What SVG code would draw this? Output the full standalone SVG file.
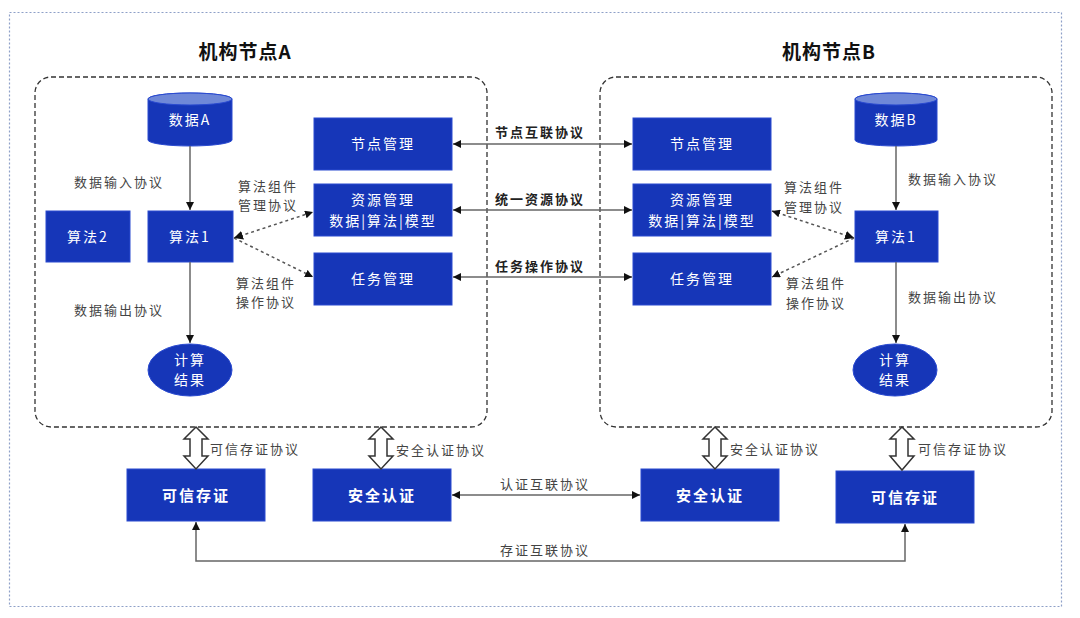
<svg xmlns="http://www.w3.org/2000/svg" width="1080" height="618" viewBox="0 0 1080 618">
<defs>
<marker id="ah" viewBox="0 0 10 10" refX="10" refY="5" markerWidth="8" markerHeight="8" markerUnits="userSpaceOnUse" orient="auto-start-reverse">
<path d="M0,0 L10,5 L0,10 z" fill="#111"/>
</marker>
<marker id="ahs" viewBox="0 0 10 10" refX="10" refY="5" markerWidth="9" markerHeight="9" markerUnits="userSpaceOnUse" orient="auto-start-reverse">
<path d="M0,0 L10,5 L0,10 z" fill="#111"/>
</marker>
</defs>
<style>
.box{fill:#1636b8;stroke:#2a4ad0;stroke-width:1}
.bt{font-family:"Noto Sans CJK SC","Noto Sans",sans-serif;font-size:14px;fill:#fff;text-anchor:middle;letter-spacing:2px}
.bb{font-weight:bold;font-size:15px}
.lb{font-family:"Noto Sans CJK SC","Noto Sans",sans-serif;font-size:13px;fill:#444;letter-spacing:2px}
.lbb{font-weight:bold;fill:#222}
.title{font-family:"Noto Sans CJK SC","Noto Sans",sans-serif;font-size:19px;font-weight:bold;fill:#111;text-anchor:middle;letter-spacing:1px}
.area{fill:none;stroke:#333;stroke-width:1.3;stroke-dasharray:5,3}
.ln{fill:none;stroke:#666;stroke-width:1.5}
.dot{fill:none;stroke:#555;stroke-width:1.5;stroke-dasharray:3,3}
.dbl{fill:#fff;stroke:#333;stroke-width:1.5;stroke-linejoin:miter}
</style>
<rect width="1080" height="618" fill="#fff"/>
<rect x="9.5" y="12.5" width="1052" height="594" fill="none" stroke="#8ea0c8" stroke-width="1.2" stroke-dasharray="2,2"/>

<g id="orgA">
<text class="title" x="245" y="59">机构节点A</text>
<rect class="area" x="35" y="77" width="452" height="350" rx="16"/>
</g>
<g id="orgB">
<text class="title" x="829" y="59">机构节点B</text>
<rect class="area" x="600" y="77" width="452" height="350" rx="16"/>
</g>

<g id="dataA">
<path d="M148,99 V140 A42,6 0 0 0 232,140 V99 A42,6 0 0 0 148,99 z" class="box"/>
<ellipse cx="190" cy="99" rx="42" ry="6" fill="#6f88d8" stroke="#2a4ad0"/>
<text class="bt" x="190" y="125">数据A</text>
</g>
<g id="algo2A"><rect class="box" x="46" y="211" width="84" height="51"/><text class="bt" x="88" y="242">算法2</text></g>
<g id="algo1A"><rect class="box" x="148" y="211" width="85" height="51"/><text class="bt" x="190" y="242">算法1</text></g>
<g id="resultA"><ellipse class="box" cx="190" cy="370" rx="42" ry="26"/><text class="bt" x="190" y="365">计算</text><text class="bt" x="190" y="385">结果</text></g>
<g id="nodeMgrA"><rect class="box" x="314" y="118" width="138" height="52"/><text class="bt" x="383" y="149">节点管理</text></g>
<g id="resMgrA"><rect class="box" x="314" y="184" width="138" height="52"/><text class="bt" x="383" y="205">资源管理</text><text class="bt" x="383" y="226">数据|算法|模型</text></g>
<g id="taskMgrA"><rect class="box" x="314" y="253" width="138" height="52"/><text class="bt" x="383" y="284">任务管理</text></g>

<g id="dataB">
<path d="M855,99 V140 A41,6 0 0 0 937,140 V99 A41,6 0 0 0 855,99 z" class="box"/>
<ellipse cx="896" cy="99" rx="41" ry="6" fill="#6f88d8" stroke="#2a4ad0"/>
<text class="bt" x="896" y="125">数据B</text>
</g>
<g id="algo1B"><rect class="box" x="855" y="211" width="83" height="51"/><text class="bt" x="896" y="242">算法1</text></g>
<g id="resultB"><ellipse class="box" cx="895" cy="370" rx="42" ry="26"/><text class="bt" x="895" y="365">计算</text><text class="bt" x="895" y="385">结果</text></g>
<g id="nodeMgrB"><rect class="box" x="633" y="118" width="138" height="52"/><text class="bt" x="702" y="149">节点管理</text></g>
<g id="resMgrB"><rect class="box" x="633" y="184" width="138" height="52"/><text class="bt" x="702" y="205">资源管理</text><text class="bt" x="702" y="226">数据|算法|模型</text></g>
<g id="taskMgrB"><rect class="box" x="633" y="253" width="138" height="52"/><text class="bt" x="702" y="284">任务管理</text></g>

<g id="trustA"><rect class="box" x="127" y="469" width="138" height="52"/><text class="bt bb" x="196" y="501">可信存证</text></g>
<g id="authA"><rect class="box" x="313" y="469" width="138" height="52"/><text class="bt bb" x="382" y="501">安全认证</text></g>
<g id="authB"><rect class="box" x="641" y="469" width="138" height="52"/><text class="bt bb" x="710" y="501">安全认证</text></g>
<g id="trustB"><rect class="box" x="836" y="471" width="138" height="52"/><text class="bt bb" x="905" y="503">可信存证</text></g>

<g id="connectors">
<line class="ln" x1="190" y1="146" x2="190" y2="210" marker-end="url(#ah)"/>
<line class="ln" x1="190" y1="262" x2="190" y2="343" marker-end="url(#ah)"/>
<line class="ln" x1="896" y1="146" x2="896" y2="210" marker-end="url(#ah)"/>
<line class="ln" x1="896" y1="262" x2="896" y2="343" marker-end="url(#ah)"/>

<line class="dot" x1="234" y1="238" x2="313" y2="212" marker-start="url(#ahs)" marker-end="url(#ah)"/>
<line class="dot" x1="234" y1="238" x2="313" y2="277" marker-end="url(#ah)"/>
<line class="dot" x1="854" y1="238" x2="772" y2="211" marker-start="url(#ahs)" marker-end="url(#ah)"/>
<line class="dot" x1="854" y1="238" x2="772" y2="277" marker-end="url(#ah)"/>

<line class="ln" x1="453" y1="144" x2="632" y2="144" marker-start="url(#ah)" marker-end="url(#ah)"/>
<line class="ln" x1="453" y1="210" x2="632" y2="210" marker-start="url(#ah)" marker-end="url(#ah)"/>
<line class="ln" x1="453" y1="277" x2="632" y2="277" marker-start="url(#ah)" marker-end="url(#ah)"/>
<line class="ln" x1="452" y1="495" x2="640" y2="495" marker-start="url(#ah)" marker-end="url(#ah)"/>
<path class="ln" d="M196,522 V561 H905 V524" marker-start="url(#ah)" marker-end="url(#ah)"/>

<path class="dbl" d="M196,427 L208,439 L202,439 L202,456 L208,456 L196,469 L184,456 L190,456 L190,439 L184,439 Z"/>
<path class="dbl" d="M381,427 L393,439 L387,439 L387,456 L393,456 L381,469 L369,456 L375,456 L375,439 L369,439 Z"/>
<path class="dbl" d="M715,427 L727,439 L721,439 L721,456 L727,456 L715,469 L703,456 L709,456 L709,439 L703,439 Z"/>
<path class="dbl" d="M902,427 L914,439 L908,439 L908,456 L914,456 L902,470 L890,456 L896,456 L896,439 L890,439 Z"/>
</g>

<g id="labels">
<text class="lb" x="74" y="187">数据输入协议</text>
<text class="lb" x="74" y="315">数据输出协议</text>
<text class="lb" x="238" y="191">算法组件</text>
<text class="lb" x="238" y="210">管理协议</text>
<text class="lb" x="236" y="288">算法组件</text>
<text class="lb" x="236" y="307">操作协议</text>
<text class="lb" x="908" y="184">数据输入协议</text>
<text class="lb" x="908" y="302">数据输出协议</text>
<text class="lb" x="784" y="192">算法组件</text>
<text class="lb" x="784" y="212">管理协议</text>
<text class="lb" x="786" y="288">算法组件</text>
<text class="lb" x="786" y="308">操作协议</text>
<text class="lb lbb" x="495" y="137">节点互联协议</text>
<text class="lb lbb" x="495" y="204">统一资源协议</text>
<text class="lb lbb" x="495" y="271">任务操作协议</text>
<text class="lb" x="210" y="454">可信存证协议</text>
<text class="lb" x="396" y="455">安全认证协议</text>
<text class="lb" x="730" y="454">安全认证协议</text>
<text class="lb" x="918" y="454">可信存证协议</text>
<text class="lb" x="500" y="489">认证互联协议</text>
<text class="lb" x="500" y="555">存证互联协议</text>
</g>
</svg>
